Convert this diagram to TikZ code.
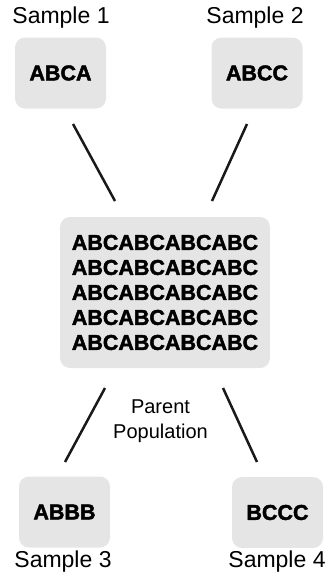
\documentclass[tikz,border=0pt]{standalone}
\usepackage{fontspec}
\setmainfont{Liberation Sans}
\newfontfamily\heavy[FakeBold=2]{Liberation Sans Bold}
\begin{document}
\begin{tikzpicture}[x=1pt,y=-1pt,
  box/.style={fill=boxgray, rounded corners=10pt, inner sep=0pt, font=\heavy\fontsize{21.5}{25}\selectfont},
  smallbox/.style={box, minimum width=91pt, minimum height=71pt},
  lbl/.style={font=\fontsize{23}{27}\selectfont, inner sep=0pt},
  link/.style={line width=2.5pt, black!90}]
\definecolor{boxgray}{HTML}{E5E5E5}
\useasboundingbox (0,0) rectangle (331,579);
\node[lbl] (l1) at (61,18) {Sample 1};
\node[lbl] (l2) at (255,18) {Sample 2};
\node[smallbox] (b1) at (60.5,73) {ABCA};
\node[smallbox] (b2) at (257,73) {ABCC};
\node[box, minimum width=210pt, minimum height=151pt, align=center, font=\heavy\fontsize{21.5}{25}\selectfont] (pop) at (165,292.5) {ABCABCABCABC\\ABCABCABCABC\\ABCABCABCABC\\ABCABCABCABC\\ABCABCABCABC};
\node[smallbox] (b3) at (64.5,512) {ABBB};
\node[smallbox] (b4) at (277.5,512.5) {BCCC};
\node[lbl] (l3) at (63,562) {Sample 3};
\node[lbl] (l4) at (277,562) {Sample 4};
\node[align=center, font=\fontsize{20}{24.5}\selectfont, inner sep=0pt] (pp) at (160.5,421) {Parent\\Population};
\coordinate (a1) at (73,124); \coordinate (a2) at (115,201);
\coordinate (c1) at (247,124); \coordinate (c2) at (212,201);
\coordinate (d1) at (105,388); \coordinate (d2) at (65,462);
\coordinate (e1) at (223,388); \coordinate (e2) at (257,462);
\draw[link] (a1) -- (a2);
\draw[link] (c1) -- (c2);
\draw[link] (d1) -- (d2);
\draw[link] (e1) -- (e2);
\end{tikzpicture}
\end{document}
